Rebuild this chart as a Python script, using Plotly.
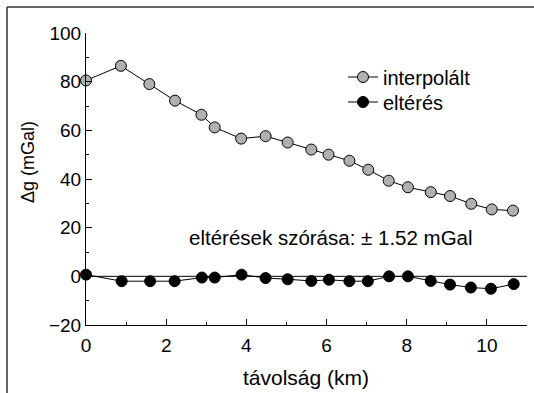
import plotly.graph_objects as go

dist_interp = [0, 0.87, 1.58, 2.22, 2.88, 3.21, 3.87, 4.48, 5.03, 5.62, 6.05, 6.57, 7.04, 7.55, 8.03, 8.6, 9.08, 9.61, 10.12, 10.65]
interpolalt = [80.5, 86.5, 79.0, 72.2, 66.4, 61.2, 56.6, 57.6, 55.0, 52.1, 50.0, 47.5, 43.8, 39.3, 36.6, 34.6, 33.0, 29.8, 27.5, 27.0]
dist_elt = [0, 0.89, 1.6, 2.21, 2.89, 3.21, 3.88, 4.48, 5.03, 5.62, 6.06, 6.57, 7.03, 7.56, 8.03, 8.6, 9.08, 9.6, 10.1, 10.67]
elteres = [0.7, -2.0, -2.0, -2.0, -0.5, -0.5, 0.7, -0.7, -1.2, -1.9, -1.4, -2.0, -2.0, 0.0, 0.0, -1.9, -3.4, -4.6, -5.1, -3.2]

x_ticks = [0, 2, 4, 6, 8, 10]
y_ticks = [-20, 0, 20, 40, 60, 80, 100]

FONT = "Arial, Liberation Sans, sans-serif"
W, H = 534, 393
L, R, T, B = 86, 7, 33, 68
pw, ph = W - L - R, H - T - B

def px_x(p):
    return (p - L) / pw

def px_y(p):
    return (H - B - p) / ph

fig = go.Figure()
fig.add_trace(go.Scatter(
    x=dist_interp, y=interpolalt, mode="lines+markers", name="interpolált",
    line=dict(color="black", width=1),
    marker=dict(size=11, color="#b0b0b0", line=dict(color="black", width=1)),
    cliponaxis=False, legend="legend"))
fig.add_trace(go.Scatter(
    x=dist_elt, y=elteres, mode="lines+markers", name="eltérés",
    line=dict(color="black", width=1),
    marker=dict(size=11, color="black", line=dict(color="black", width=1)),
    cliponaxis=False, legend="legend2"))

# zero line
fig.add_shape(type="line", xref="x", yref="y", x0=0, x1=11, y0=0, y1=0,
              line=dict(color="black", width=1), layer="below")
# outer frame (open at right and bottom)
fx = px_x(7)
fy = px_y(7)
fig.add_shape(type="line", xref="paper", yref="paper", x0=fx, x1=1.2, y0=fy, y1=fy,
              line=dict(color="#333333", width=1.5))
fig.add_shape(type="line", xref="paper", yref="paper", x0=fx, x1=fx, y0=fy, y1=-0.5,
              line=dict(color="#333333", width=1.5))

fig.add_annotation(x=6.12, y=15.8, xref="x", yref="y", text="eltérések szórása: ± 1.52 mGal",
                   xanchor="center", yanchor="middle",
                   showarrow=False, font=dict(size=20.5, color="black", family=FONT))
# axis titles
fig.add_annotation(x=px_x(306), y=px_y(377), xref="paper", yref="paper", text="távolság (km)",
                   xanchor="center", yanchor="middle",
                   showarrow=False, font=dict(size=21, color="black", family=FONT))
fig.add_annotation(x=px_x(28), y=px_y(162), xref="paper", yref="paper", text="Δg (mGal)",
                   xanchor="center", yanchor="middle",
                   textangle=-90, showarrow=False, font=dict(size=18, color="black", family=FONT))

leg_common = dict(xanchor="left", yanchor="middle", bgcolor="rgba(0,0,0,0)",
                  font=dict(size=20, family=FONT, color="black"), itemwidth=30)

fig.update_layout(
    width=W, height=H,
    margin=dict(l=L, r=R, t=T, b=B),
    paper_bgcolor="white", plot_bgcolor="white",
    font=dict(family=FONT, size=19, color="black"),
    showlegend=True,
    legend=dict(x=px_x(343), y=px_y(77), **leg_common),
    legend2=dict(x=px_x(343), y=px_y(102), **leg_common),
    xaxis=dict(range=[0, 11], tickvals=x_ticks, ticks="inside", ticklen=6,
               tickcolor="black", showline=True, linecolor="black", linewidth=1,
               showgrid=False, zeroline=False, ticklabelstandoff=3,
               minor=dict(dtick=1, ticks="inside", ticklen=3, tickcolor="black"),
               tickfont=dict(size=19)),
    yaxis=dict(range=[-20, 100], tickvals=y_ticks, ticks="inside", ticklen=6,
               tickcolor="black", showline=True, linecolor="black", linewidth=1,
               showgrid=False, zeroline=False,
               minor=dict(dtick=10, ticks="inside", ticklen=3, tickcolor="black"),
               tickfont=dict(size=19)),
)

fig.write_html("out.html")
